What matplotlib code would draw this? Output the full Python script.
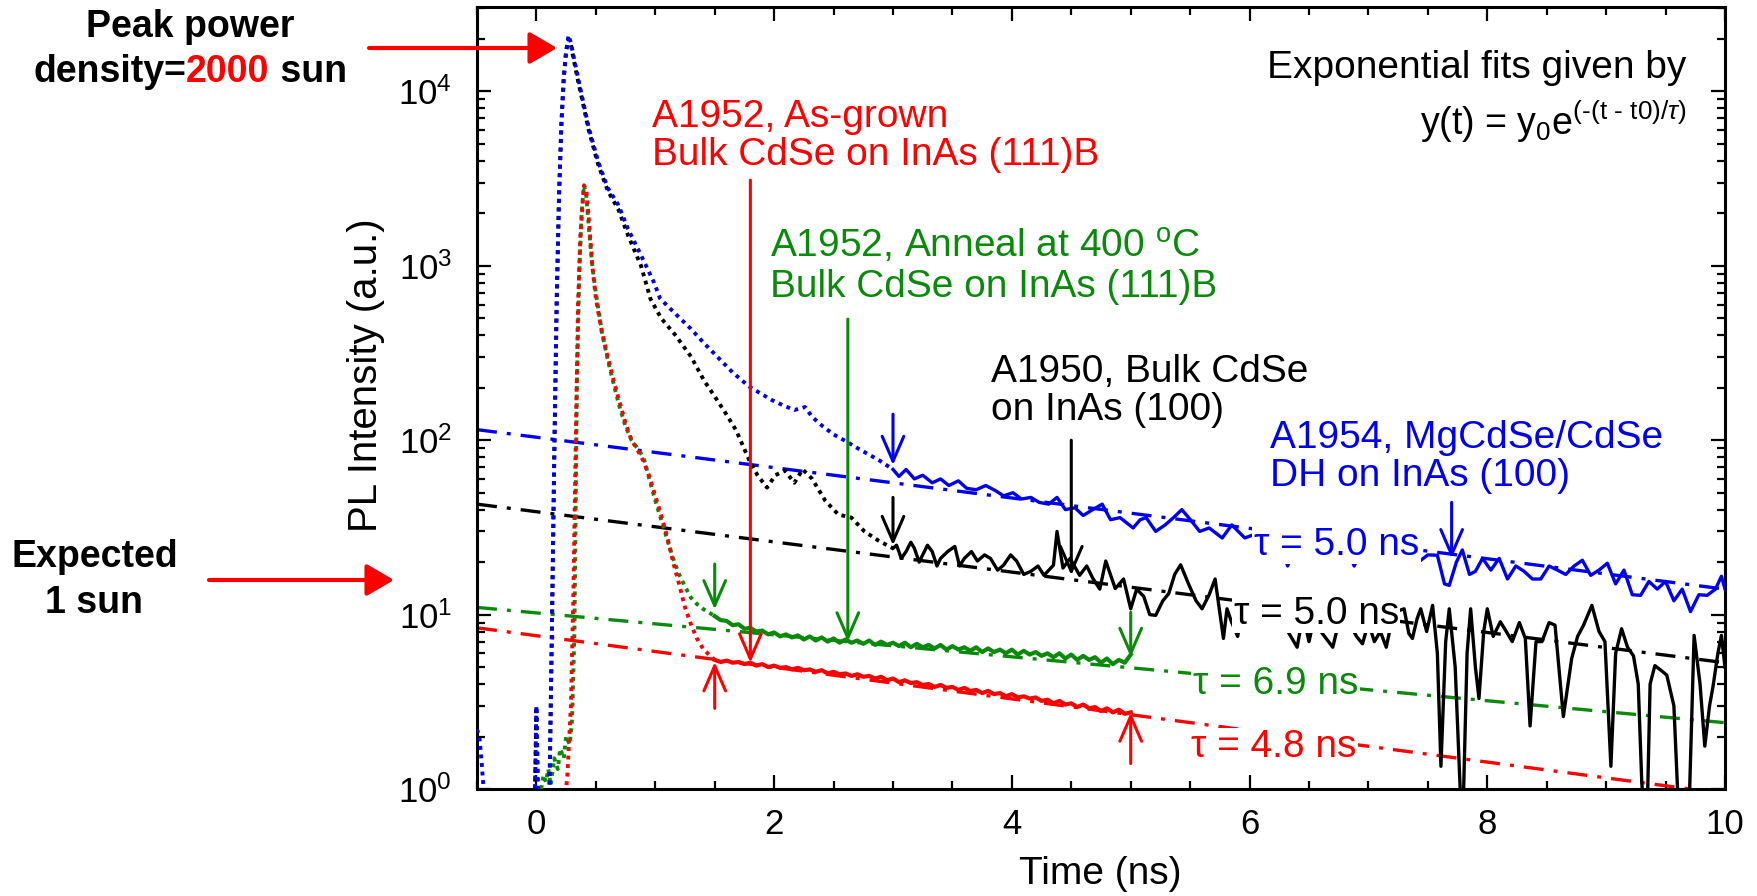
import matplotlib
matplotlib.use("Agg")
import matplotlib.pyplot as plt
from matplotlib.ticker import MultipleLocator, LogLocator, LogFormatterSciNotation, NullFormatter
from matplotlib.offsetbox import TextArea, HPacker, AnnotationBbox
from matplotlib.patches import FancyArrowPatch

plt.rcParams['font.family'] = ['Liberation Sans', 'DejaVu Sans']
plt.rcParams['mathtext.fontset'] = 'custom'
plt.rcParams['mathtext.rm'] = 'Liberation Sans'
plt.rcParams['mathtext.it'] = 'Liberation Sans:italic'
plt.rcParams['mathtext.bf'] = 'Liberation Sans:bold'

# ---- data (time in ns, PL intensity a.u.) ----
# early (dotted) parts of the transients
blue_t1 = [-0.5, -0.48, -0.46, -0.44, -0.42, -0.02, 0.0, 0.02, 0.08, 0.11, 0.13, 0.15, 0.17,
           0.19, 0.21, 0.23, 0.25, 0.27, 0.29, 0.32, 0.35, 0.38, 0.44, 0.52, 0.60, 0.69, 0.77,
           0.88, 0.99, 1.04, 1.17, 1.30, 1.41, 1.52, 1.65, 1.79, 1.98, 2.08, 2.17, 2.26, 2.32,
           2.41, 2.50, 2.60, 2.69, 2.78, 2.88, 3.0]
blue_i1 = [2.2, 2.0, 1.4, 0.9, 0.5, 0.5, 3.0, 0.5, 0.5, 1.0, 8, 80, 600,
           2500, 6500, 12000, 17000, 21000, 19000, 15000, 12000, 9600, 6200, 3950, 2800, 2230, 1630,
           1150, 800, 650, 530, 435, 360, 302, 245, 203, 170, 158, 149, 155, 136,
           120, 108, 99, 91, 84, 77, 68]

black_t1 = [-0.02, 0.0, 0.02, 0.08, 0.11, 0.13, 0.15, 0.17, 0.19, 0.21, 0.23, 0.25, 0.27, 0.29,
            0.32, 0.35, 0.38, 0.44, 0.52, 0.60, 0.69, 0.77, 0.88, 0.96, 1.05, 1.17, 1.30, 1.41,
            1.52, 1.60, 1.68, 1.79, 1.86, 1.94, 2.01, 2.09, 2.17, 2.24, 2.32, 2.43, 2.54, 2.65,
            2.76, 2.88, 3.0]
black_i1 = [0.5, 2.8, 0.5, 0.5, 1.0, 8, 80, 600, 2500, 6500, 12000, 17000, 20000, 18500,
            14500, 11500, 9300, 6000, 3800, 2700, 2100, 1500, 1000, 645, 500, 400, 302, 220,
            170, 140, 114, 77, 63, 53.5, 63, 67, 57, 68, 60, 45, 37.5, 36,
            30, 26.5, 24]

red_t1 = [0.22, 0.26, 0.29, 0.31, 0.33, 0.35, 0.37, 0.40, 0.42, 0.44, 0.47, 0.50, 0.55, 0.60,
          0.65, 0.70, 0.75, 0.80, 0.85, 0.90, 0.95, 1.00, 1.05, 1.10, 1.15, 1.20, 1.25, 1.30,
          1.35, 1.40, 1.45, 1.50]
red_i1 = [0.6, 1.2, 3, 12, 90, 600, 1500, 2900, 2700, 1900, 1000, 650, 420, 300,
          220, 165, 125, 100, 88, 76, 62, 48, 37, 28, 20, 15, 11, 8.8,
          7.3, 6.4, 5.9, 5.5]

green_t1 = [0.04, 0.06, 0.08, 0.10, 0.12, 0.15, 0.18, 0.20, 0.23, 0.25, 0.28, 0.30, 0.32, 0.34,
            0.36, 0.38, 0.40, 0.42, 0.44, 0.47, 0.50, 0.55, 0.60, 0.65, 0.70, 0.75, 0.80, 0.85,
            0.90, 0.95, 1.00, 1.05, 1.10, 1.15, 1.20, 1.25, 1.30, 1.35, 1.40, 1.45, 1.50]
green_i1 = [1.0, 1.2, 1.1, 1.3, 1.05, 1.5, 1.3, 1.7, 1.5, 2.0, 1.8, 2.5, 8, 200,
            900, 2000, 2900, 2500, 1700, 1000, 700, 420, 290, 210, 155, 120, 100, 90,
            80, 60, 45, 35, 27, 21, 17, 14.5, 12.5, 11.5, 10.8, 10.3, 9.8]

# later (solid) parts of the transients
blue_t2 = [3.0, 3.05, 3.11, 3.18, 3.25, 3.33, 3.40, 3.47, 3.55, 3.62, 3.70, 3.78, 3.86, 3.93,
           4.01, 4.08, 4.16, 4.23, 4.31, 4.38, 4.45, 4.53, 4.60, 4.68, 4.76, 4.83, 4.91, 5.02,
           5.08, 5.13, 5.21, 5.29, 5.36, 5.43, 5.51, 5.58, 5.66, 5.77, 5.85, 5.96, 6.05, 6.15,
           6.25, 6.32, 6.40, 6.50, 6.60, 6.70, 6.80, 6.88, 6.95, 7.05, 7.15, 7.25, 7.35, 7.42,
           7.50, 7.58, 7.64, 7.68, 7.74, 7.79, 7.85, 7.90, 7.96, 8.03, 8.10, 8.17, 8.24, 8.31,
           8.38, 8.45, 8.52, 8.59, 8.66, 8.73, 8.80, 8.87, 8.94, 9.01, 9.08, 9.15, 9.22, 9.29,
           9.36, 9.43, 9.50, 9.57, 9.64, 9.71, 9.78, 9.85, 9.92, 9.97, 10.0]
blue_i2 = [68, 62, 68, 60, 63, 57, 60, 55, 58.5, 53, 52, 55, 51.5, 48,
           50, 46, 47, 44, 43, 47, 40, 41, 37, 40, 43, 35, 36, 31.4,
           35, 36, 30, 32.7, 36, 40, 34.5, 30, 31.4, 27.5, 32.7, 27.5, 29, 25,
           27, 19, 26, 24, 28, 23, 26, 19, 24, 22, 25, 21, 23, 20,
           22, 21.9, 15, 14.7, 20, 23.5, 17, 17.7, 21, 18, 21, 16, 19, 17.7,
           16, 16, 19, 18, 17, 19, 20.5, 16.8, 18, 19.7, 15, 18, 13, 12.9,
           15.5, 14, 15.5, 12, 14, 10.4, 13, 12.9, 14, 16.6, 14]

black_t2 = [3.0, 3.03, 3.07, 3.11, 3.15, 3.18, 3.22, 3.25, 3.29, 3.33, 3.37, 3.40, 3.46, 3.52,
            3.56, 3.60, 3.66, 3.71, 3.77, 3.82, 3.88, 3.93, 3.99, 4.04, 4.10, 4.16, 4.22, 4.27,
            4.35, 4.38, 4.43, 4.49, 4.57, 4.63, 4.68, 4.74, 4.79, 4.87, 4.94, 5.0, 5.05, 5.11,
            5.16, 5.21, 5.27, 5.32, 5.37, 5.42, 5.49, 5.55, 5.60, 5.66, 5.71, 5.78, 5.81, 5.85,
            5.90, 5.95, 6.0, 6.1, 6.2, 6.3, 6.4, 6.45, 6.5, 6.55, 6.6, 6.7, 6.75, 6.8,
            6.9, 6.95, 7.0, 7.05, 7.1, 7.15, 7.2, 7.25, 7.30, 7.34, 7.37, 7.41, 7.44, 7.49,
            7.54, 7.58, 7.61, 7.65, 7.68, 7.73, 7.79, 7.83, 7.86, 7.90, 7.93, 7.97, 8.0, 8.05,
            8.11, 8.16, 8.21, 8.27, 8.32, 8.36, 8.41, 8.46, 8.52, 8.57, 8.64, 8.71, 8.76, 8.81,
            8.88, 8.94, 8.99, 9.04, 9.08, 9.13, 9.18, 9.23, 9.27, 9.30, 9.34, 9.37, 9.41, 9.46,
            9.51, 9.57, 9.62, 9.69, 9.74, 9.79, 9.83, 9.87, 9.90, 9.94, 9.97, 10.0]
black_i2 = [24, 25, 21, 23, 26, 24, 20, 22, 25, 23, 19, 21, 23, 24.6,
            19, 21, 23, 20.3, 22, 21, 18, 19.2, 22, 20.3, 17, 17.7, 19, 16.8,
            19.2, 30, 18.5, 21, 16.8, 19, 16.2, 14, 20.3, 14.1, 16, 10.8, 14, 12.7,
            10, 9.9, 12, 13.2, 17, 19.3, 14.8, 12, 10.8, 13, 16, 7.3, 10.8, 9,
            7.5, 12, 10, 9, 11, 8.5, 6.5, 10, 7, 10, 8, 6.5, 9, 10,
            7.5, 6.8, 9, 7, 8, 6.5, 9.5, 10.5, 10.8, 7.8, 7.3, 9.5, 10.8, 8.0,
            11.3, 6, 1.35, 7, 10.8, 5, 0.5, 6, 10.8, 5, 3.3, 8, 10.8, 7.5,
            9.1, 8, 7.0, 9, 7.3, 2.3, 7, 7.0, 9, 8.7, 2.6, 5.6, 7.5, 8.7,
            11.3, 8, 7.0, 1.35, 6, 8.3, 6.5, 5.8, 4, 1.08, 0.5, 4, 5.1, 4.8,
            4.5, 3, 0.5, 0.5, 7.6, 4, 1.76, 3, 3.9, 6, 7.6, 5]

red_t2 = [1.50, 1.55, 1.60, 1.65, 1.70, 1.75, 1.80, 1.85, 1.90, 1.95, 2.00, 2.05, 2.10, 2.15,
          2.20, 2.25, 2.30, 2.35, 2.40, 2.45, 2.50, 2.55, 2.60, 2.65, 2.70, 2.75, 2.80, 2.85,
          2.90, 2.95, 3.00, 3.05, 3.10, 3.15, 3.20, 3.25, 3.30, 3.35, 3.40, 3.45, 3.50, 3.55,
          3.60, 3.65, 3.70, 3.75, 3.80, 3.85, 3.90, 3.95, 4.00, 4.05, 4.10, 4.15, 4.20, 4.25,
          4.30, 4.35, 4.40, 4.45, 4.50, 4.55, 4.60, 4.65, 4.70, 4.75, 4.80, 4.85, 4.90, 4.95,
          5.00]
red_i2 = [5.5, 5.35, 5.45, 5.3, 5.35, 5.2, 5.3, 5.1, 5.2, 5.0, 5.1, 4.95, 5.0, 4.85,
          4.95, 4.8, 4.85, 4.7, 4.8, 4.6, 4.7, 4.55, 4.6, 4.45, 4.55, 4.4, 4.45, 4.3,
          4.4, 4.2, 4.3, 4.1, 4.2, 4.05, 4.1, 3.95, 4.0, 3.85, 3.95, 3.8, 3.85, 3.7,
          3.8, 3.65, 3.7, 3.55, 3.65, 3.5, 3.55, 3.4, 3.5, 3.35, 3.4, 3.3, 3.35, 3.2,
          3.25, 3.1, 3.2, 3.05, 3.1, 2.95, 3.05, 2.9, 2.95, 2.8, 2.9, 2.75, 2.85, 2.7,
          2.75]

green_t2 = red_t2
green_i2 = [9.8, 9.3, 9.2, 8.7, 8.8, 8.3, 8.4, 8.0, 8.1, 7.7, 7.9, 7.5, 7.7, 7.4,
            7.6, 7.2, 7.5, 7.1, 7.4, 7.0, 7.3, 6.9, 7.2, 6.9, 7.1, 6.8, 7.1, 6.7,
            7.0, 6.7, 6.9, 6.6, 6.9, 6.5, 6.8, 6.5, 6.7, 6.4, 6.7, 6.3, 6.6, 6.3,
            6.5, 6.2, 6.5, 6.1, 6.4, 6.1, 6.3, 6.0, 6.3, 5.9, 6.2, 5.9, 6.1, 5.8,
            6.0, 5.7, 6.0, 5.6, 5.9, 5.5, 5.8, 5.5, 5.7, 5.3, 5.6, 5.2, 5.5, 5.3,
            5.9]

# exponential fits: end points of straight lines on the log axis
fit_t = [-0.5, 10.0]
blue_fit = [115, 14.0]
black_fit = [43, 5.3]
green_fit = [11, 2.4]
red_fit = [8.4, 0.94]

tau_text = ["\u03c4 = 5.0 ns", "\u03c4 = 5.0 ns", "\u03c4 = 6.9 ns", "\u03c4 = 4.8 ns"]
tau_pos = [(6.73, 25.1), (6.56, 10.1), (6.22, 4.0), (6.2, 1.73)]

# arrows: (t, tail, tip)
long_arrows = [(1.8, 3100, 5.3, 'red'), (2.62, 495, 7.0, 'green'),
               (4.5, 100, 16.8, 'black'), (7.7, 44, 21, 'blue')]
short_arrows = [(3.0, 141, 72, 'blue'), (3.0, 47, 25, 'black'),
                (1.5, 19.5, 10.7, 'green'), (5.0, 10.3, 5.7, 'green'),
                (1.5, 2.9, 5.35, 'red'), (5.0, 1.4, 2.75, 'red')]

BLUE = '#0000f0'
GREEN = '#0a8a0a'
RED = '#ff0000'
BLACK = '#000000'
cmap = {'blue': BLUE, 'green': GREEN, 'red': RED, 'black': BLACK}

W, H = 1757, 896
FS = 28


def fpos(x, y):
    """pixel position in the picture -> figure fraction"""
    return x / W, 1 - y / H


fig = plt.figure(figsize=(W / 100, H / 100), dpi=100)
ax = fig.add_axes([477 / W, 1 - 789 / H, (1725 - 477) / W, (789 - 7) / H])
ax.set_yscale('log')
ax.set_xlim(-0.5, 10)
ax.set_ylim(1, 3.05e4)

dashdot = (0, (6, 3, 1.2, 3))
dotted = (0, (1, 1.2))

for fit, col in [(blue_fit, BLUE), (black_fit, BLACK), (green_fit, GREEN), (red_fit, RED)]:
    ax.plot(fit_t, fit, color=col, lw=2.4, linestyle=dashdot, zorder=2)

ax.plot(green_t1, green_i1, color=GREEN, lw=2.8, linestyle=dotted, zorder=3)
ax.plot(red_t1, red_i1, color=RED, lw=2.8, linestyle=dotted, zorder=3)
ax.plot(black_t1, black_i1, color=BLACK, lw=2.8, linestyle=dotted, zorder=3)
ax.plot(blue_t1, blue_i1, color=BLUE, lw=2.8, linestyle=dotted, zorder=3)

ax.plot(black_t2, black_i2, color=BLACK, lw=2.4, zorder=3)
ax.plot(blue_t2, blue_i2, color=BLUE, lw=2.4, zorder=3)
ax.plot(green_t2, green_i2, color=GREEN, lw=3.0, zorder=3)
ax.plot(red_t2, red_i2, color=RED, lw=3.0, zorder=3)

for (tx, ty), txt, col in zip(tau_pos, tau_text, [BLUE, BLACK, GREEN, RED]):
    ax.text(tx, ty, txt, color=col, fontsize=FS, ha='center', va='center', zorder=5,
            bbox=dict(facecolor='white', edgecolor='none', pad=1))

for t, tail, tip, c in long_arrows + short_arrows:
    ax.annotate('', xy=(t, tip), xytext=(t, tail), zorder=6,
                arrowprops=dict(arrowstyle='->,head_length=0.6,head_width=0.26', lw=2.2,
                                color=cmap[c], shrinkA=0, shrinkB=0, mutation_scale=30))

# axes styling
ax.xaxis.set_major_locator(MultipleLocator(2))
ax.xaxis.set_minor_locator(MultipleLocator(0.5))
ax.yaxis.set_major_locator(LogLocator(base=10))
ax.yaxis.set_minor_locator(LogLocator(base=10, subs=range(2, 10)))
ax.yaxis.set_major_formatter(LogFormatterSciNotation())
ax.yaxis.set_minor_formatter(NullFormatter())
ax.tick_params(which='both', direction='in', top=True, right=True, width=1.6, labelsize=25)
ax.tick_params(which='major', length=10)
ax.tick_params(which='minor', length=6)
ax.tick_params(axis='x', which='major', pad=14)
ax.tick_params(axis='y', which='major', pad=18)
for sp in ax.spines.values():
    sp.set_linewidth(2.2)

fig.text(*fpos(366, 375), 'PL Intensity (a.u.)', rotation=90, ha='center', va='center', fontsize=29)
fig.text(*fpos(1100, 874), 'Time (ns)', ha='center', va='center', fontsize=FS)

# sample labels
fig.text(*fpos(652, 136), 'A1952, As-grown\nBulk CdSe on InAs (111)B', color=RED,
         fontsize=FS, ha='left', va='center', linespacing=1.1)
fig.text(*fpos(770, 266), 'A1952, Anneal at 400 $^{\\mathrm{o}}$C\nBulk CdSe on InAs (111)B',
         color=GREEN, fontsize=FS, ha='left', va='center', linespacing=1.1)
fig.text(*fpos(991, 391), 'A1950, Bulk CdSe\non InAs (100)', color=BLACK,
         fontsize=FS, ha='left', va='center', linespacing=1.1)
fig.text(*fpos(1270, 457), 'A1954, MgCdSe/CdSe\nDH on InAs (100)', color=BLUE,
         fontsize=FS, ha='left', va='center', linespacing=1.1)

hy = '\u2010'
formula = ('y(t) = y$_0$e$^{\\mathrm{(' + hy + '(t\\ ' + hy + '\\ t0)/}\\tau\\mathrm{)}}$')
fig.text(*fpos(1686, 68), 'Exponential fits given by', ha='right', va='center', fontsize=FS)
fig.text(*fpos(1687, 122), formula, ha='right', va='center', fontsize=FS - 1)

# left-hand notes with red arrows
fig.text(*fpos(190, 27), 'Peak power', fontsize=27, fontweight='bold', ha='center', va='center')
parts = [TextArea('density=', textprops=dict(fontsize=27, fontweight='bold', color='black')),
         TextArea('2000', textprops=dict(fontsize=27, fontweight='bold', color=RED)),
         TextArea(' sun', textprops=dict(fontsize=27, fontweight='bold', color='black'))]
box = HPacker(children=parts, pad=0, sep=0, align='baseline')
ab = AnnotationBbox(box, fpos(190, 72), xycoords='figure fraction', frameon=False,
                    box_alignment=(0.5, 0.5))
fig.add_artist(ab)

fig.text(*fpos(95, 557), 'Expected', fontsize=27, fontweight='bold', ha='center', va='center')
fig.text(*fpos(94, 603), '1 sun', fontsize=27, fontweight='bold', ha='center', va='center')

for x0, x1, y in [(369, 557, 48), (209, 394, 580)]:
    arr = FancyArrowPatch(fpos(x0, y), fpos(x1, y), transform=fig.transFigure,
                          arrowstyle='-|>,head_length=0.6,head_width=0.35', mutation_scale=28,
                          lw=3, color=RED, shrinkA=0, shrinkB=0)
    fig.add_artist(arr)

fig.savefig('out.png', dpi=100)
